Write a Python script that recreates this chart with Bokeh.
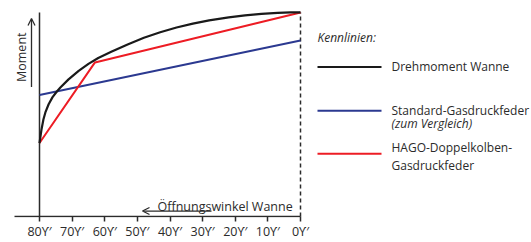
import math
from bokeh.plotting import figure
from bokeh.models import Range1d, FixedTicker, Arrow, OpenHead
from bokeh.core.properties import value
from bokeh.embed import file_html
from bokeh.resources import INLINE

# ---- data ----
tick_angles = [80, 70, 60, 50, 40, 30, 20, 10, 0]
tick_labels = ["80ϒ′", "70ϒ′", "60ϒ′", "50ϒ′", "40ϒ′", "30ϒ′", "20ϒ′", "10ϒ′", "0ϒ′"]

torque_angle = [80, 79.4, 78.8, 78.2, 77.2, 76, 74.8, 73.6, 71.1, 68, 65, 62, 58, 53,
                48, 43, 38, 33, 28, 22, 17, 12, 7, 3, 0]
torque_value = [36, 42.5, 47.5, 51, 55, 58.5, 61, 63.2, 67.2, 71.4, 74.8, 77.7, 80.7, 84.3,
                87.6, 90.3, 92.6, 94.5, 96.1, 97.6, 98.6, 99.3, 99.8, 100, 100]

standard_angle = [80, 0]
standard_value = [59.5, 86.3]

hago_angle = [80, 63, 0]
hago_value = [36, 75.5, 100]

legend_names = ["Drehmoment Wanne", "Standard-Gasdruckfeder", "HAGO-Doppelkolben-"]
legend_second = ["", "(zum Vergleich)", "Gasdruckfeder"]
colors = ["#1a1a1a", "#2b3990", "#ed1c24"]

FONT = "Open Sans"
TXT = "#2b2b2b"
FS = "12.5px"
LFS = "12px"

# layout helpers: reference pixel -> data coordinates
def px2x(px):
    return 80 - (px - 39) / 3.2625

def py2y(py):
    return (217 - py) / 2.05

W, H = 531, 242
p = figure(width=W, height=H, output_backend="svg", toolbar_location=None,
           x_range=Range1d(px2x(0), px2x(W)), y_range=Range1d(py2y(218), py2y(0)),
           min_border_left=0, min_border_right=0, min_border_top=0, min_border_bottom=0,
           y_axis_location=None)
p.outline_line_color = None
p.grid.visible = False
p.background_fill_color = "white"
p.border_fill_color = "white"

ax = p.xaxis[0]
ax.ticker = FixedTicker(ticks=tick_angles)
ax.major_label_overrides = {a: l for a, l in zip(tick_angles, tick_labels)}
ax.axis_line_color = None
ax.major_tick_line_color = TXT
ax.major_tick_line_width = 1.5
ax.major_tick_out = 4
ax.major_tick_in = 1
ax.minor_tick_line_color = None
ax.major_label_standoff = 1
ax.major_label_text_font = FONT
ax.major_label_text_font_size = FS
ax.major_label_text_color = TXT

# axes lines
p.line([px2x(14), 0], [0, 0], line_color=TXT, line_width=1.5)
p.line([80, 80], [0, py2y(12)], line_color=TXT, line_width=1.5)
p.line([0, 0], [0, py2y(12)], line_color=TXT, line_width=1.5, line_dash="4 3")

# series
p.line(standard_angle, standard_value, line_color=colors[1], line_width=2)
p.line(hago_angle, hago_value, line_color=colors[2], line_width=2)
p.line(torque_angle, torque_value, line_color=colors[0], line_width=2.2, line_join="round")

# axis captions
p.text(x=[px2x(21)], y=[py2y(57)], text=["Moment"], angle=math.pi / 2,
       text_align="center", text_baseline="middle", text_font=value(FONT),
       text_font_size=FS, text_color=TXT)
p.add_layout(Arrow(end=OpenHead(size=7, line_width=1.3, line_color=TXT),
                   x_start=px2x(31), y_start=py2y(87), x_end=px2x(31), y_end=py2y(18),
                   line_width=1.3, line_color=TXT))
p.text(x=[px2x(157)], y=[py2y(207)], text=["Öffnungswinkel Wanne"],
       text_align="left", text_baseline="alphabetic", text_font=value(FONT),
       text_font_size=FS, text_color=TXT)
p.add_layout(Arrow(end=OpenHead(size=7, line_width=1.3, line_color=TXT),
                   x_start=px2x(211), y_start=py2y(211.5), x_end=px2x(142), y_end=py2y(211.5),
                   line_width=1.3, line_color=TXT))

# legend
p.text(x=[px2x(317)], y=[py2y(37)], text=["Kennlinien:"], text_align="left",
       text_baseline="alphabetic", text_font=value(FONT), text_font_size=LFS,
       text_font_style="italic", text_color=TXT)
line_py = [66.7, 110.7, 154]
first_py = [66.7, 110.7, 148]
second_py = [None, 123.5, 165.5]
for i in range(3):
    p.line([px2x(317), px2x(381)], [py2y(line_py[i])] * 2, line_color=colors[i], line_width=2)
    p.text(x=[px2x(391)], y=[py2y(first_py[i])], text=[legend_names[i]], text_align="left",
           text_baseline="alphabetic", text_font=value(FONT), text_font_size=LFS, text_color=TXT)
    if legend_second[i]:
        p.text(x=[px2x(391)], y=[py2y(second_py[i])], text=[legend_second[i]], text_align="left",
               text_baseline="alphabetic", text_font=value(FONT), text_font_size=LFS,
               text_font_style="italic" if i == 1 else "normal", text_color=TXT)

open("out.html", "w").write(file_html(p, INLINE))
